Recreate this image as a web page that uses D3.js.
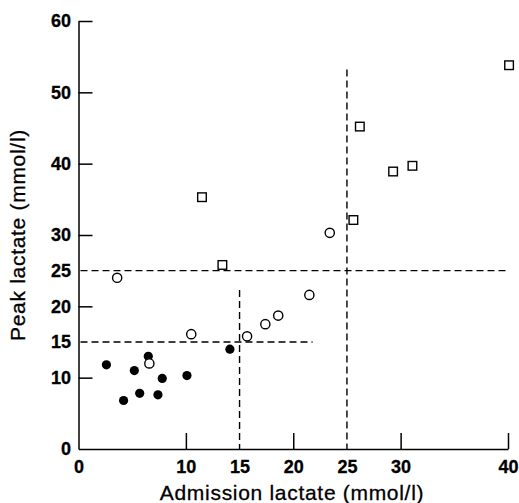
<!DOCTYPE html>
<html>
<head>
<meta charset="utf-8">
<script src="https://cdn.jsdelivr.net/npm/d3@7"></script>
<style>
  body { margin: 0; background: #fff; }
  svg { display: block; font-family: "Liberation Sans", Arial, Helvetica, sans-serif; }
  .axis path, .axis line { stroke: #000; stroke-width: 1.5; }
  .cut { stroke: #000; stroke-width: 1.4; stroke-dasharray: 7 4; fill: none; }
  .title { font-size: 21px; fill: #000; stroke: #000; stroke-width: 0.3px; letter-spacing: 0.7px; }
</style>
</head>
<body>
<div id="chart"></div>
<script>
// values (mmol/l)
var filled_x = [2.6, 4.2, 5.2, 5.7, 6.5, 7.4, 7.8, 10.1, 14.1];
var filled_y = [11.8, 6.8, 11.0, 7.8, 13.0, 7.6, 9.9, 10.3, 14.0];
var open_x = [3.6, 6.6, 10.5, 15.7, 17.4, 18.6, 21.5, 23.4];
var open_y = [24.0, 12.0, 16.1, 15.8, 17.5, 18.7, 21.6, 30.3];
var square_x = [11.5, 13.4, 25.6, 26.2, 29.3, 31.1, 40.1];
var square_y = [35.3, 25.8, 32.1, 45.2, 38.9, 39.7, 53.8];

var x_ticks = [0, 10, 15, 20, 25, 30, 40];
var y_ticks = [0, 10, 15, 20, 25, 30, 40, 50, 60];
var no_tick_mark = [15, 25];

// dashed cut-off lines
var h_cuts = [{y: 25, x0: 0, x1: 40}, {y: 15, x0: 0, x1: 21.8}];
var v_cuts = [{x: 15, y0: 0, y1: 22.3}, {x: 25, y0: 0, y1: 53.2}];

var WIDTH = 519, HEIGHT = 503;

var svg = d3.select('#chart').append('svg')
    .attr('width', WIDTH)
    .attr('height', HEIGHT);

var scale_x = d3.scaleLinear().domain([0, 40]).range([78.5, 508]);
var scale_y = d3.scaleLinear().domain([0, 60]).range([449, 21]);

function zip(xs, ys) {
    return xs.map(function(v, i) { return {x: v, y: ys[i]}; });
}

// axes
var axis_x = d3.axisBottom(scale_x)
    .tickValues(x_ticks)
    .tickFormat(d3.format('d'))
    .tickSizeInner(-16)
    .tickSizeOuter(0)
    .tickPadding(11);
var axis_y = d3.axisLeft(scale_y)
    .tickValues(y_ticks)
    .tickFormat(d3.format('d'))
    .tickSizeInner(-14)
    .tickSizeOuter(0)
    .tickPadding(7.5);

var gx = svg.append('g')
    .attr('class', 'axis')
    .attr('transform', 'translate(0,' + scale_y(0) + ')')
    .call(axis_x);
var gy = svg.append('g')
    .attr('class', 'axis')
    .attr('transform', 'translate(' + scale_x(0) + ',0)')
    .call(axis_y);

gx.selectAll('.tick line')
    .filter(function(d) { return no_tick_mark.indexOf(d) >= 0 || d === 0; })
    .remove();
gy.selectAll('.tick line')
    .filter(function(d) { return no_tick_mark.indexOf(d) >= 0 || d === 0; })
    .remove();
svg.selectAll('.axis')
    .attr('font-family', null)
    .attr('font-size', null);
svg.selectAll('.axis .tick text')
    .attr('font-size', 18)
    .attr('font-weight', 'bold')
    .style('font-size', '18px')
    .style('font-weight', 'bold')
    .style('fill', '#000')
    .style('stroke', '#000')
    .style('stroke-width', '0.3px');

// cut-off lines
svg.selectAll('.hcut')
    .data(h_cuts)
    .enter()
  .append('line')
    .attr('class', 'cut')
    .attr('x1', function(d) { return scale_x(d.x0) + 2; })
    .attr('x2', function(d) { return scale_x(d.x1); })
    .attr('y1', function(d) { return scale_y(d.y); })
    .attr('y2', function(d) { return scale_y(d.y); });
svg.selectAll('.vcut')
    .data(v_cuts)
    .enter()
  .append('line')
    .attr('class', 'cut')
    .attr('x1', function(d) { return scale_x(d.x); })
    .attr('x2', function(d) { return scale_x(d.x); })
    .attr('y1', function(d) { return scale_y(d.y1); })
    .attr('y2', function(d) { return scale_y(d.y0); });

// points
var R = 4.6, SIDE = 8.6;
svg.selectAll('.filled')
    .data(zip(filled_x, filled_y))
    .enter()
  .append('circle')
    .attr('cx', function(d) { return scale_x(d.x); })
    .attr('cy', function(d) { return scale_y(d.y); })
    .attr('r', R)
    .attr('fill', '#000');
svg.selectAll('.open')
    .data(zip(open_x, open_y))
    .enter()
  .append('circle')
    .attr('cx', function(d) { return scale_x(d.x); })
    .attr('cy', function(d) { return scale_y(d.y); })
    .attr('r', R)
    .attr('fill', '#fff')
    .attr('stroke', '#000')
    .attr('stroke-width', 1.4);
svg.selectAll('.square')
    .data(zip(square_x, square_y))
    .enter()
  .append('rect')
    .attr('x', function(d) { return scale_x(d.x) - SIDE / 2; })
    .attr('y', function(d) { return scale_y(d.y) - SIDE / 2; })
    .attr('width', SIDE)
    .attr('height', SIDE)
    .attr('fill', '#fff')
    .attr('stroke', '#000')
    .attr('stroke-width', 1.4);

// axis titles
svg.append('text')
    .attr('class', 'title')
    .attr('x', 292)
    .attr('y', 500)
    .attr('text-anchor', 'middle')
    .text('Admission lactate (mmol/l)');
svg.append('text')
    .attr('class', 'title')
    .attr('transform', 'translate(25,235) rotate(-90)')
    .attr('text-anchor', 'middle')
    .text('Peak lactate (mmol/l)');
</script>
</body>
</html>
